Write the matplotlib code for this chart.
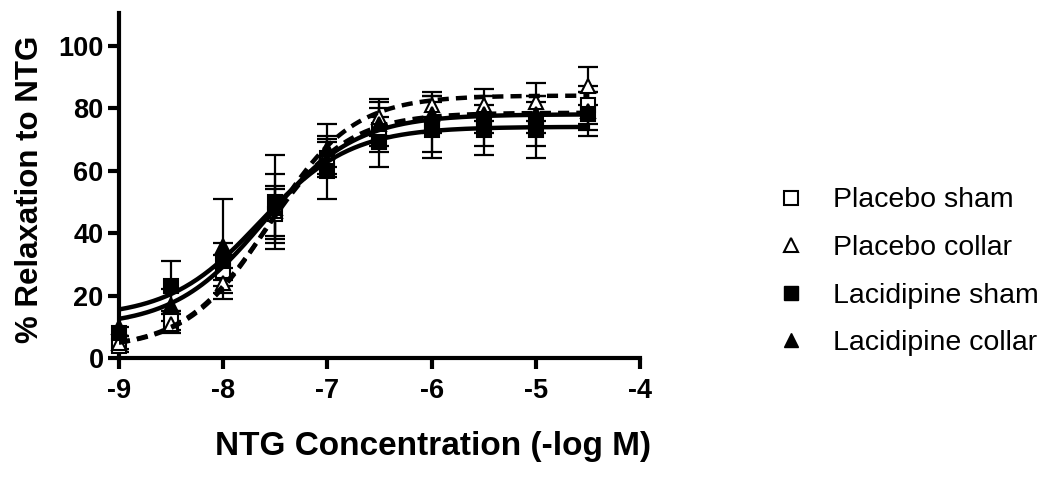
import numpy as np
import matplotlib
matplotlib.use("Agg")
import matplotlib.pyplot as plt
from matplotlib.lines import Line2D

plt.rcParams['font.family'] = ['Liberation Sans', 'DejaVu Sans']

# ---- data ----
log_conc = [-9, -8.5, -8, -7.5, -7, -6.5, -6, -5.5, -5, -4.5]

placebo_sham = [4, 12, 28, 46, 64, 73, 75, 76, 76, 81]
placebo_sham_err = [2, 3, 5, 8, 6, 7, 9, 8, 8, 6]
placebo_collar = [5, 11, 24, 47, 66, 77, 81, 81, 82, 87]
placebo_collar_err = [2, 3, 5, 8, 5, 6, 4, 5, 6, 6]
lacidipine_sham = [8, 23, 31, 50, 60, 69, 73, 73, 73, 78]
lacidipine_sham_err = [2, 8, 6, 15, 9, 8, 9, 8, 9, 7]
lacidipine_collar = [10, 17, 36, 48, 67, 75, 78, 78, 78, 79]
lacidipine_collar_err = [3, 5, 15, 11, 8, 7, 6, 6, 6, 6]

# sigmoid fit parameters: bottom, top, logEC50, hill slope
fit_placebo_sham = [3, 78.5, -7.6, 1.1]
fit_placebo_collar = [3, 84, -7.55, 1.1]
fit_lacidipine_sham = [13, 74, -7.65, 1.0]
fit_lacidipine_collar = [10, 78, -7.6, 1.0]

labels = ["Placebo sham", "Placebo collar", "Lacidipine sham", "Lacidipine collar"]
x_ticks = [-9, -8, -7, -6, -5, -4]
y_ticks = [0, 20, 40, 60, 80, 100]


def sigmoid(x, p):
    b, t, ec, h = p
    return b + (t - b) / (1 + 10 ** ((ec - x) * h))


fig = plt.figure(figsize=(10.5, 4.99), dpi=100)
ax = fig.add_axes([0.1133, 0.282, 0.4962, 0.692])

series = [
    (placebo_sham, placebo_sham_err, fit_placebo_sham, 's', 'white', (0, (2.5, 1.6))),
    (placebo_collar, placebo_collar_err, fit_placebo_collar, '^', 'white', (0, (2.5, 1.6))),
    (lacidipine_sham, lacidipine_sham_err, fit_lacidipine_sham, 's', 'black', '-'),
    (lacidipine_collar, lacidipine_collar_err, fit_lacidipine_collar, '^', 'black', '-'),
]

xs = np.linspace(log_conc[0], log_conc[-1], 300)
for vals, errs, fit, mk, fc, ls in series:
    ax.errorbar(log_conc, vals, yerr=errs, fmt='none', ecolor='black',
                elinewidth=1.6, capsize=7, capthick=1.6, zorder=2)
    ax.plot(log_conc, vals, linestyle='none', marker=mk, markersize=10,
            markerfacecolor=fc, markeredgecolor='black', markeredgewidth=1.5, zorder=3,
            clip_on=False)
    ax.plot(xs, sigmoid(xs, fit), color='black', linewidth=3.2, linestyle=ls, zorder=4)

ax.set_xlim(-9, -4)
ax.set_ylim(0, 110.4)
ax.set_xticks(x_ticks)
ax.set_yticks(y_ticks)
ax.set_xticklabels([str(t) for t in x_ticks], fontsize=19.5, fontweight='bold')
ax.set_yticklabels([str(t) for t in y_ticks], fontsize=19.5, fontweight='bold')
ax.tick_params(axis='x', width=3, length=8, direction='out', pad=6)
ax.tick_params(axis='y', width=3, length=8, direction='out', pad=3)
for s in ['top', 'right']:
    ax.spines[s].set_visible(False)
for s in ['left', 'bottom']:
    ax.spines[s].set_linewidth(3)

ax.set_xlabel("NTG Concentration (-log M)", fontsize=24, fontweight='bold')
ax.xaxis.set_label_coords(0.603, -0.21)
ax.set_ylabel("% Relaxation to NTG", fontsize=22.5, fontweight='bold')
ax.yaxis.set_label_coords(-0.142, 0.488)

handles = [
    Line2D([], [], linestyle='none', marker='s', markersize=9.5, markerfacecolor='white',
           markeredgecolor='black', markeredgewidth=1.5),
    Line2D([], [], linestyle='none', marker='^', markersize=9.5, markerfacecolor='white',
           markeredgecolor='black', markeredgewidth=1.5),
    Line2D([], [], linestyle='none', marker='s', markersize=9.5, markerfacecolor='black',
           markeredgecolor='black'),
    Line2D([], [], linestyle='none', marker='^', markersize=9.5, markerfacecolor='black',
           markeredgecolor='black'),
]
fig.legend(handles, labels, loc='center left', bbox_to_anchor=(0.709, 0.455),
           frameon=False, fontsize=20.5, handletextpad=0.7, labelspacing=0.76,
           handlelength=1.5)

fig.savefig("out.png", dpi=100)
